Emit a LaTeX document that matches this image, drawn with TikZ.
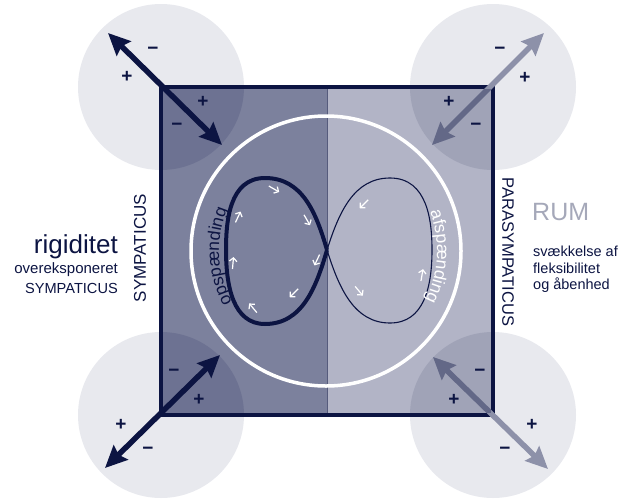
\documentclass[tikz,border=0pt]{standalone}
\usepackage{fontspec}
\setmainfont{Liberation Sans}
\usetikzlibrary{arrows.meta}
\definecolor{navy}{HTML}{0C1442}
\definecolor{sqL}{HTML}{7C819D}
\definecolor{sqR}{HTML}{B2B4C6}
\definecolor{sqLd}{HTML}{6D7292}
\definecolor{sqRd}{HTML}{A0A3B7}
\definecolor{divc}{HTML}{565B7C}
\definecolor{cgray}{HTML}{E8E9EE}
\definecolor{garO}{HTML}{8D91A9}
\definecolor{garI}{HTML}{636887}
\definecolor{rumgray}{HTML}{A5A8B9}
\tikzset{
  fz/.style={font=\fontsize{#1}{#1}\selectfont},
  sign/.style={text=navy, inner sep=0pt, font=\fontsize{19}{19}\selectfont\bfseries},
  bigarrow/.style={line width=5.5pt, {Stealth[length=22pt,width=20pt,inset=3pt]}-{Stealth[length=22pt,width=20pt,inset=3pt]}},
  chev/.style={white, line width=1.2pt, -{Straight Barb[length=3.5pt,width=7.5pt]}},
  arcletter/.style={fz=17.5, inner sep=0pt, anchor=base},
}
\newcommand{\chv}[3]{\draw[chev, shift={(#1,#2)}, rotate=#3] (-6pt,0) -- (6pt,0);}
\begin{document}
\begin{tikzpicture}[x=1pt,y=-1pt]
\useasboundingbox (0,0) rectangle (623,498);
% corner circles
\foreach \p in {(161,87),(493,87),(161,415),(493,415)}
  \fill[cgray] \p circle (83);
% square halves
\fill[sqL] (161,87) rectangle (327,415);
\fill[sqR] (327,87) rectangle (493,415);
\begin{scope}
  \clip (161,87) rectangle (493,415);
  \fill[sqLd] (161,87) circle (83);
  \fill[sqLd] (161,415) circle (83);
  \fill[sqRd] (493,87) circle (83);
  \fill[sqRd] (493,415) circle (83);
\end{scope}
\draw[divc, line width=0.8pt] (327,87) -- (327,415);
% white circle
\coordinate (C) at (326,251);
\draw[white, line width=3.5pt] (C) circle (135);
% figure eight
\coordinate (X) at (327,250);
\draw[navy, line width=4pt, line join=round] (X) .. controls (316,212) and (302,178) .. (265,178)
  .. controls (229,178) and (226,222) .. (226,250)
  .. controls (226,286) and (233,324) .. (265,324)
  .. controls (302,324) and (316,288) .. (X);
\draw[navy, line width=1.1pt] (X) .. controls (339,212) and (354,178) .. (390,178)
  .. controls (428,178) and (432,222) .. (432,250)
  .. controls (432,287) and (424,323) .. (390,323)
  .. controls (354,323) and (339,288) .. (X);
% chevrons
\chv{274}{189}{-30}
\chv{307}{220}{-60}
\chv{317}{260}{-115}
\chv{294}{293}{-135}
\chv{253}{308}{130}
\chv{233}{263}{85}
\chv{238}{217}{65}
\chv{364}{204}{-135}
\chv{359}{291}{-50}
\chv{422}{275}{80}
% loop labels along arcs (letter by letter)
\foreach \ch/\s [count=\i] in {o/-43.3, p/-33.6, s/-24.3, p/-15.1, æ/-2.4, n/10.2, d/19.9, i/26.7, n/33.5, g/43.2} {
  \pgfmathsetmacro\ph{183 - \s/107*57.2958}
  \node[arcletter, text=navy, rotate=\ph-90] (op\i) at ({326+107*cos(\ph)}, {251-107*sin(\ph)}) {\ch};
}
\foreach \ch/\s [count=\i] in {a/-40.8, f/-33.5, s/-26.7, p/-17.5, æ/-4.9, n/7.8, d/17.5, i/24.3, n/31.1, g/40.8} {
  \pgfmathsetmacro\ph{-3 - \s/111*57.2958}
  \node[arcletter, text=white, rotate=\ph-90] (af\i) at ({326+111*cos(\ph)}, {251-111*sin(\ph)}) {\ch};
}
% square border
\draw[navy, line width=4.5pt] (161,87) rectangle (493,415);
% side texts
\node[fz=26, text=navy, anchor=base east, inner sep=0pt] (rig) at (118,253) {rigiditet};
\node[fz=15, text=navy, anchor=east, inner sep=0pt] (ove) at (118,270) {overeksponeret};
\node[fz=14.6, text=navy, anchor=east, inner sep=0pt] (sym) at (118,288) {SYMPATICUS};
\node[fz=17, text=navy, rotate=90, inner sep=0pt] (symv) at (140,248) {SYMPATICUS};
\node[fz=16.5, text=navy, rotate=-90, inner sep=0pt] (parv) at (508,252) {PARASYMPATICUS};
\node[fz=25, text=rumgray, anchor=west, inner sep=0pt] (rum) at (532,212) {RUM};
\node[fz=14.5, text=navy, anchor=west, inner sep=0pt] (sv1) at (533,251) {svækkelse af};
\node[fz=14.5, text=navy, anchor=west, inner sep=0pt] (sv2) at (533,268) {fleksibilitet};
\node[fz=14.5, text=navy, anchor=west, inner sep=0pt] (sv3) at (533,285) {og åbenhed};
% corner arrows
\coordinate (tlA) at (108,33); \coordinate (tlB) at (222,145);
\coordinate (blA) at (220,355); \coordinate (blB) at (105,468);
\coordinate (trA) at (544,33); \coordinate (trB) at (432,145);
\coordinate (brA) at (433,357); \coordinate (brB) at (548,469);
\draw[bigarrow, navy] (tlA) -- (tlB);
\draw[bigarrow, navy] (blA) -- (blB);
\draw[bigarrow, garO] (trA) -- (trB);
\draw[bigarrow, garO] (brA) -- (brB);
\begin{scope}
  \clip (163.25,89.25) rectangle (490.75,412.75);
  \draw[bigarrow, garI] (trA) -- (trB);
  \draw[bigarrow, garI] (brA) -- (brB);
\end{scope}
% signs
\node[sign] (s1) at (153,51) {−};
\node[sign] (s2) at (127,77) {+};
\node[sign] (s3) at (203,102) {+};
\node[sign] (s4) at (177,127) {−};
\node[sign] (s5) at (500,51) {−};
\node[sign] (s6) at (525,78) {+};
\node[sign] (s7) at (449,102) {+};
\node[sign] (s8) at (476,127) {−};
\node[sign] (s9) at (174,373) {−};
\node[sign] (s10) at (199,400) {+};
\node[sign] (s11) at (121,425) {+};
\node[sign] (s12) at (148,451) {−};
\node[sign] (s13) at (480,373) {−};
\node[sign] (s14) at (454,400) {+};
\node[sign] (s15) at (532,425) {+};
\node[sign] (s16) at (505,451) {−};
\end{tikzpicture}
\end{document}
